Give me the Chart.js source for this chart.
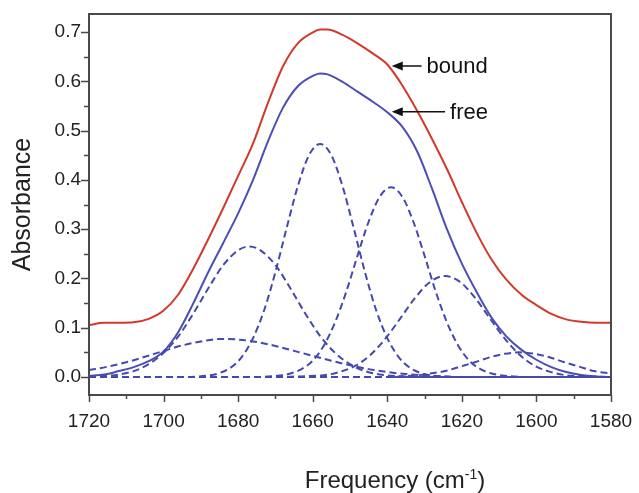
<!DOCTYPE html>
<html>
<head>
<meta charset="utf-8">
<script src="https://cdn.jsdelivr.net/npm/chart.js@4.4.1/dist/chart.umd.min.js"></script>
<style>
  html, body { margin: 0; padding: 0; background: #fff; }
  #chart { display: block; }
</style>
</head>
<body>
<canvas id="chart" width="639" height="493"></canvas>
<script>
// Tick values
const xTicks = [1720, 1700, 1680, 1660, 1640, 1620, 1600, 1580];
const yTicks = [0.0, 0.1, 0.2, 0.3, 0.4, 0.5, 0.6, 0.7];

// Measured spectra (free and bound), sampled on a common frequency list
const specFreq = [1720, 1716, 1712, 1708, 1704, 1700, 1696, 1692, 1688, 1684, 1680, 1676, 1672, 1668, 1664, 1660, 1658,
    1656, 1652, 1648, 1644, 1640, 1636, 1632, 1628, 1624, 1620, 1616, 1612, 1608, 1604, 1600, 1596, 1592, 1588, 1584, 1580];
const freeAbs = [0.002, 0.005, 0.012, 0.020, 0.032, 0.052, 0.092, 0.150, 0.213, 0.272, 0.332, 0.400, 0.478, 0.546, 0.590, 0.611, 0.616,
    0.614, 0.599, 0.579, 0.559, 0.537, 0.508, 0.458, 0.382, 0.300, 0.230, 0.172, 0.120, 0.082, 0.055, 0.035, 0.020, 0.010, 0.004, 0.001, 0.000];
const boundAbs = [0.105, 0.110, 0.110, 0.111, 0.118, 0.135, 0.168, 0.220, 0.280, 0.343, 0.408, 0.474, 0.556, 0.630, 0.677, 0.699, 0.705,
    0.705, 0.694, 0.677, 0.657, 0.634, 0.592, 0.540, 0.483, 0.422, 0.355, 0.292, 0.238, 0.197, 0.167, 0.146, 0.128, 0.117, 0.112, 0.110, 0.110];

// Fitted component bands (dashed)
const band1Freq = [1720, 1715, 1710, 1705, 1700, 1695, 1690, 1685, 1680, 1675, 1670, 1665, 1660, 1655, 1650, 1645, 1640, 1635, 1630, 1625, 1620, 1580];
const band1Abs = [0.014, 0.021, 0.030, 0.041, 0.053, 0.064, 0.072, 0.077, 0.076, 0.071, 0.063, 0.053, 0.043, 0.033, 0.024, 0.016, 0.010, 0.006, 0.003, 0.001, 0, 0];

const band2Freq = [1720, 1716, 1712, 1708, 1704, 1700, 1696, 1692, 1688, 1684, 1680, 1677, 1674, 1670, 1666, 1662, 1658, 1654, 1650, 1646, 1642, 1638, 1634, 1630, 1580];
const band2Abs = [0.001, 0.002, 0.005, 0.012, 0.026, 0.049, 0.083, 0.129, 0.180, 0.227, 0.257, 0.265, 0.257, 0.227, 0.180, 0.129, 0.083, 0.049, 0.026, 0.012, 0.005, 0.002, 0.001, 0, 0];

const band3Freq = [1720, 1694, 1691, 1688, 1685, 1682, 1679, 1676, 1673, 1670, 1667, 1664, 1661, 1658, 1655, 1652, 1649, 1646, 1643, 1640, 1637, 1634, 1631, 1628, 1625, 1622, 1580];
const band3Abs = [0, 0, 0.001, 0.003, 0.008, 0.019, 0.041, 0.079, 0.136, 0.213, 0.302, 0.387, 0.450, 0.473, 0.450, 0.387, 0.302, 0.213, 0.136, 0.079, 0.041, 0.019, 0.008, 0.003, 0.001, 0, 0];

const band4Freq = [1720, 1675, 1672, 1669, 1666, 1663, 1660, 1657, 1654, 1651, 1648, 1645, 1642, 1639, 1636, 1633, 1630, 1627, 1624, 1621, 1618, 1615, 1612, 1609, 1606, 1603, 1580];
const band4Abs = [0, 0, 0.001, 0.003, 0.007, 0.016, 0.033, 0.064, 0.111, 0.173, 0.246, 0.315, 0.366, 0.385, 0.366, 0.315, 0.246, 0.173, 0.111, 0.064, 0.033, 0.016, 0.007, 0.003, 0.001, 0, 0];

const band5Freq = [1720, 1668.5, 1664.5, 1660.5, 1656.5, 1652.5, 1648.5, 1644.5, 1640.5, 1636.5, 1632.5, 1628.5, 1624.5, 1620.5, 1616.5, 1612.5, 1608.5, 1604.5, 1600.5, 1596.5, 1592.5, 1588.5, 1584.5, 1580];
const band5Abs = [0, 0, 0.001, 0.002, 0.004, 0.011, 0.023, 0.045, 0.078, 0.119, 0.161, 0.193, 0.205, 0.193, 0.161, 0.119, 0.078, 0.045, 0.023, 0.011, 0.004, 0.002, 0.001, 0];

const band6Freq = [1720, 1640.5, 1636.5, 1632.5, 1628.5, 1624.5, 1620.5, 1616.5, 1612.5, 1608.5, 1604.5, 1600.5, 1596.5, 1592.5, 1588.5, 1584.5, 1580];
const band6Abs = [0, 0, 0.001, 0.003, 0.007, 0.012, 0.021, 0.030, 0.040, 0.047, 0.050, 0.047, 0.040, 0.030, 0.021, 0.012, 0.007];

// Zero baseline (solid) on the low-frequency side
const baseFreq = [1640, 1580];
const baseAbs = [0, 0];

// Arrow labels: text, arrow tip and tail (frequency, absorbance)
const labelText = ['bound', 'free'];
const labelTipFreq = [1638.8, 1638.8];
const labelTailFreq = [1630.8, 1624.5];
const labelAbs = [0.631, 0.538];

const RED = '#d2392b';
const BLUE = '#4b4fb3';
const DASH_BLUE = '#4449ad';
const FONT = '"Liberation Sans", Arial, Helvetica, sans-serif';

function toPoints(xs, ys) {
    return xs.map((x, i) => ({ x: x, y: ys[i] }));
}

function bandDataset(xs, ys) {
    return {
        data: toPoints(xs, ys),
        borderColor: DASH_BLUE,
        borderWidth: 2,
        borderDash: [7, 4],
        pointRadius: 0,
        cubicInterpolationMode: 'monotone',
        fill: false
    };
}

// Frame, tick marks, x title and arrow labels
const decorPlugin = {
    id: 'decor',
    afterDatasetsDraw(chart) {
        const { ctx, chartArea: a, scales: { x, y } } = chart;
        ctx.save();

        // box
        ctx.strokeStyle = '#4a4a4a';
        ctx.lineWidth = 2;
        ctx.strokeRect(a.left, a.top, a.right - a.left, a.bottom - a.top);

        // y ticks (major + minor)
        ctx.lineWidth = 1.5;
        ctx.beginPath();
        yTicks.forEach((v, i) => {
            const py = Math.round(y.getPixelForValue(v)) + 0.5;
            ctx.moveTo(a.left - 8, py);
            ctx.lineTo(a.left, py);
            if (i < yTicks.length - 1) {
                const pm = Math.round(y.getPixelForValue((v + yTicks[i + 1]) / 2)) + 0.5;
                ctx.moveTo(a.left - 5, pm);
                ctx.lineTo(a.left, pm);
            }
        });
        // x ticks (major + minor)
        xTicks.forEach((v, i) => {
            const px = Math.round(x.getPixelForValue(v)) + 0.5;
            ctx.moveTo(px, a.bottom);
            ctx.lineTo(px, a.bottom + 7);
            if (i < xTicks.length - 1) {
                const pm = Math.round(x.getPixelForValue((v + xTicks[i + 1]) / 2)) + 0.5;
                ctx.moveTo(pm, a.bottom);
                ctx.lineTo(pm, a.bottom + 4);
            }
        });
        ctx.stroke();

        // x title with superscript, placed right of centre as in the source figure
        ctx.fillStyle = '#222';
        ctx.textBaseline = 'alphabetic';
        const big = '24px ' + FONT;
        const small = '14px ' + FONT;
        ctx.font = big;
        const w1 = ctx.measureText('Frequency (cm').width;
        const w3 = ctx.measureText(')').width;
        ctx.font = small;
        const w2 = ctx.measureText('-1').width;
        const tx = 395 - (w1 + w2 + w3) / 2;
        const ty = 488;
        ctx.font = big;
        ctx.fillText('Frequency (cm', tx, ty);
        ctx.font = small;
        ctx.fillText('-1', tx + w1, ty - 9);
        ctx.font = big;
        ctx.fillText(')', tx + w1 + w2, ty);

        // arrows with labels
        ctx.strokeStyle = '#111';
        ctx.fillStyle = '#111';
        ctx.lineWidth = 1.5;
        ctx.font = '22px ' + FONT;
        ctx.textBaseline = 'middle';
        labelText.forEach((t, i) => {
            const tipX = x.getPixelForValue(labelTipFreq[i]);
            const tailX = x.getPixelForValue(labelTailFreq[i]);
            const py = y.getPixelForValue(labelAbs[i]);
            ctx.beginPath();
            ctx.moveTo(tailX, py);
            ctx.lineTo(tipX + 8, py);
            ctx.stroke();
            ctx.beginPath();
            ctx.moveTo(tipX, py);
            ctx.lineTo(tipX + 11, py - 4.5);
            ctx.lineTo(tipX + 11, py + 4.5);
            ctx.closePath();
            ctx.fill();
            ctx.fillText(t, tailX + 5, py + 1);
        });
        ctx.restore();
    }
};

const datasets = [
    bandDataset(band1Freq, band1Abs),
    bandDataset(band2Freq, band2Abs),
    bandDataset(band3Freq, band3Abs),
    bandDataset(band4Freq, band4Abs),
    bandDataset(band5Freq, band5Abs),
    bandDataset(band6Freq, band6Abs),
    {
        data: toPoints(baseFreq, baseAbs),
        borderColor: BLUE,
        borderWidth: 2,
        pointRadius: 0
    },
    {
        label: 'free',
        data: toPoints(specFreq, freeAbs),
        borderColor: BLUE,
        borderWidth: 2,
        pointRadius: 0,
        cubicInterpolationMode: 'monotone'
    },
    {
        label: 'bound',
        data: toPoints(specFreq, boundAbs),
        borderColor: RED,
        borderWidth: 2,
        pointRadius: 0,
        cubicInterpolationMode: 'monotone'
    }
];

new Chart(document.getElementById('chart'), {
    type: 'line',
    data: { datasets: datasets },
    options: {
        responsive: false,
        animation: false,
        layout: { padding: { top: 14, right: 28, left: 0, bottom: 0 } },
        plugins: {
            legend: { display: false },
            tooltip: { enabled: false }
        },
        scales: {
            x: {
                type: 'linear',
                reverse: true,
                min: 1580,
                max: 1720,
                grid: { display: false },
                border: { display: false },
                afterBuildTicks: scale => { scale.ticks = xTicks.map(v => ({ value: v })); },
                afterFit: scale => {
                    scale.height = 98;
                    scale.paddingLeft = 0;
                    scale.paddingRight = 0;
                },
                ticks: {
                    padding: 7,
                    color: '#222',
                    font: { family: FONT, size: 19 },
                    callback: v => String(v)
                }
            },
            y: {
                min: -0.0365,
                max: 0.7365,
                grid: { display: false },
                border: { display: false },
                afterBuildTicks: scale => { scale.ticks = yTicks.map(v => ({ value: v })); },
                afterFit: scale => {
                    scale.width = 89;
                    scale.paddingTop = 0;
                    scale.paddingBottom = 0;
                },
                ticks: {
                    padding: 0,
                    color: '#222',
                    font: { family: FONT, size: 19 },
                    callback: v => v.toFixed(1)
                },
                title: {
                    display: true,
                    text: 'Absorbance',
                    color: '#222',
                    font: { family: FONT, size: 25 },
                    padding: { top: 8, bottom: 0 }
                }
            }
        }
    },
    plugins: [decorPlugin]
});
</script>
</body>
</html>
